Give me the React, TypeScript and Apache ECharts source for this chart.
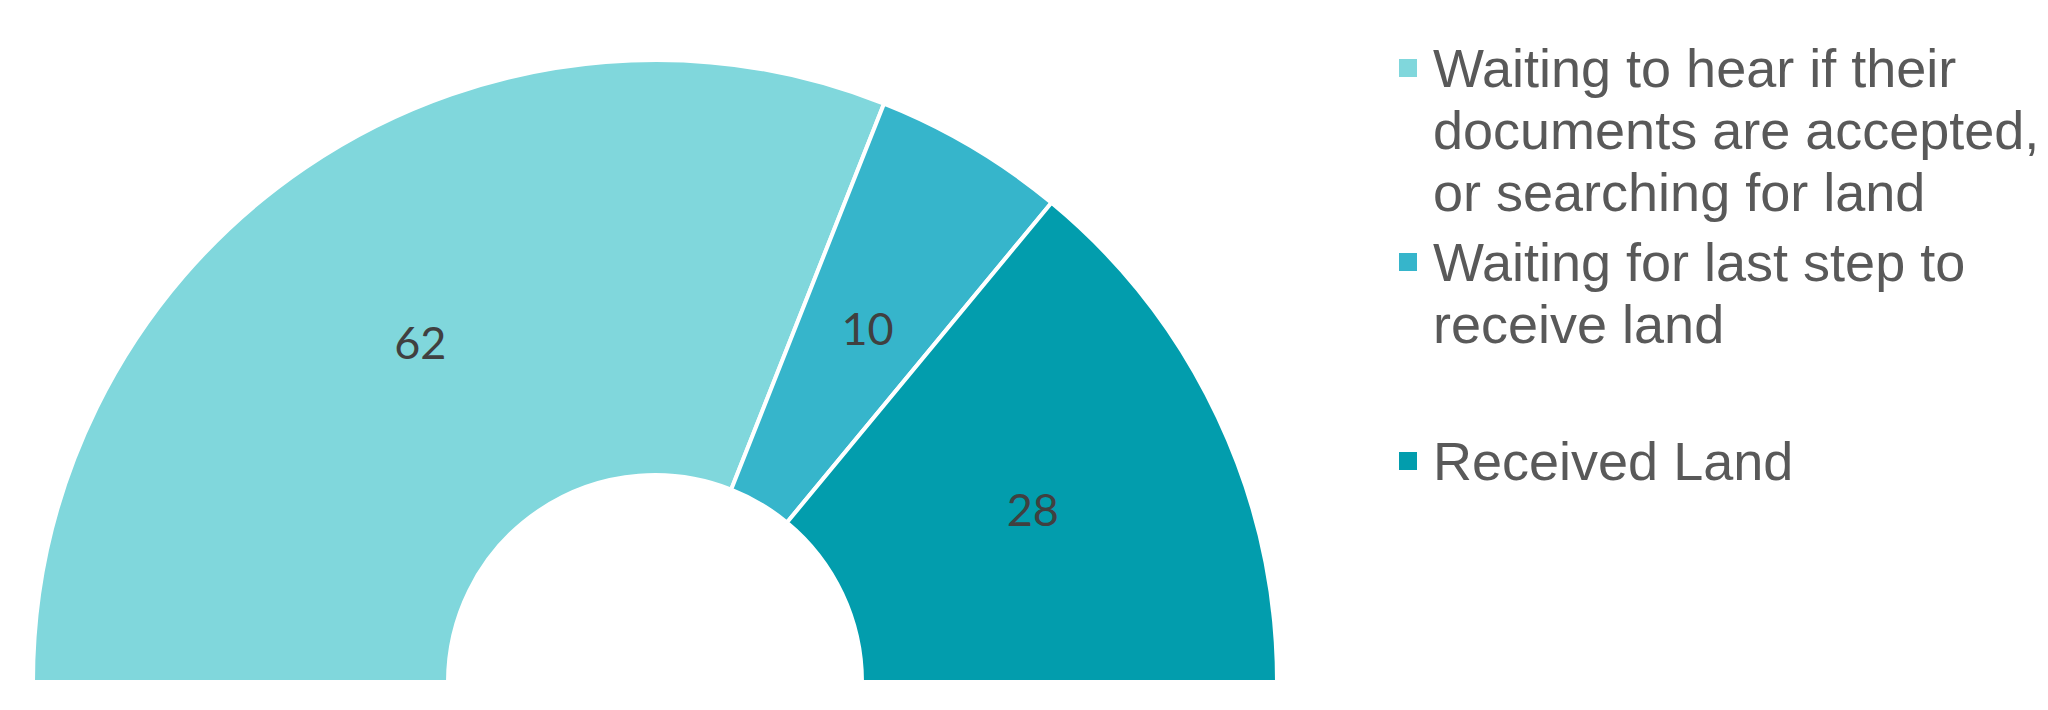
import React, { useEffect, useRef } from "react";
import * as echarts from "echarts";

const categories = [
  "Waiting to hear if their documents are accepted, or searching for land",
  "Waiting for last step to receive land",
  "Received Land",
];
const legendLabels = [
  "Waiting to hear if their\ndocuments are accepted,\nor searching for land",
  "Waiting for last step to\nreceive land",
  "Received Land",
];
const values = [62, 10, 28];
const colors = ["#80D7DC", "#36B5CB", "#029DAD"];

export default function App() {
  const ref = useRef<HTMLDivElement>(null);
  useEffect(() => {
    if (!ref.current) return;
    const chart = echarts.init(ref.current, null, { renderer: "svg" });
    const LH = 62;
    const IH = 20;
    const iconTops = [58, 252, 451];
    const legends = categories.map((name, i) => {
      const n = legendLabels[i].split("\n").length;
      const h = LH * n;
      const offset = h - LH / 2 - IH / 2;
      return {
        data: [name],
        orient: "vertical",
        left: 1397,
        top: iconTops[i] - offset,
        padding: 0,
        icon: "rect",
        itemWidth: 20,
        itemHeight: IH,
        selectedMode: false,
        formatter: (nm: string) => {
          const lab = legendLabels[categories.indexOf(nm)];
          const k = lab.split("\n").length;
          return "\n".repeat(k - 1) + lab;
        },
        textStyle: {
          fontFamily: "Liberation Sans",
          fontSize: 54,
          lineHeight: LH,
          color: "#595959",
          padding: [0, 0, 0, 10],
        },
      };
    });
    chart.setOption({
      animation: false,
      color: colors,
      legend: legends,
      series: [
        {
          type: "pie",
          center: [655, 682],
          radius: [207, 622],
          startAngle: 180,
          endAngle: 360,
          clockwise: true,
          avoidLabelOverlap: false,
          itemStyle: { borderColor: "#ffffff", borderWidth: 4 },
          label: {
            show: true,
            position: "inside",
            formatter: "{c}",
            fontFamily: "Lato",
            fontSize: 45,
            color: "#404040",
            offset: [0, 5],
          },
          labelLine: { show: false },
          emphasis: { disabled: true },
          data: categories.map((name, i) => ({ name, value: values[i] })),
        },
      ],
    });
    return () => chart.dispose();
  }, []);
  return (
    <div
      ref={ref}
      style={{ position: "fixed", left: 0, top: 0, width: 2048, height: 710, background: "#fff" }}
    />
  );
}
